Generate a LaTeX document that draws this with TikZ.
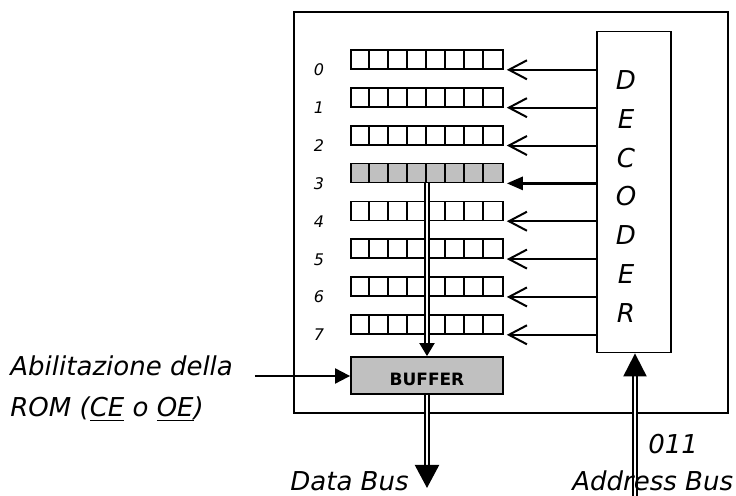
\documentclass[tikz,border=0pt]{standalone}
\usepackage{fontspec}
\setmainfont{DejaVu Sans}
\usetikzlibrary{arrows.meta}
\definecolor{romgray}{HTML}{C0C0C0}

\begin{document}
\begin{tikzpicture}[x=0.5pt, y=-0.5pt,
  reg/.style={draw, line width=0.8pt, minimum width=76pt, minimum height=9.5pt, inner sep=0pt},
  big/.style={font=\fontsize{13}{15}\selectfont\itshape, inner sep=0pt},
  numlbl/.style={font=\fontsize{8}{10}\selectfont\itshape, inner sep=0pt},
  seloff/.style={line width=1pt, -{Straight Barb[length=9pt, width=9.5pt, line width=1pt]}},
  selon/.style={line width=1.3pt, -{Triangle[length=8pt, width=6.5pt]}},
  bus/.style={double, double distance=1.4pt, line width=1pt}]
  \useasboundingbox (0,0) rectangle (736,496);
  % chip outline and decoder
  \draw[line width=1pt] (294,12) rectangle (728,413);
  \node[draw, line width=0.9pt, minimum width=37pt, minimum height=160.5pt] (dec) at (634,192) {};
  \foreach \l [count=\i] in {D,E,C,O,D,E,R}
    \node[big] (dl\i) at (626,41.2+38.8*\i) {\l};
  % memory locations 0..7
  \foreach \i/\c/\a in {0/white/seloff,1/white/seloff,2/white/seloff,3/romgray/selon,
                        4/white/seloff,5/white/seloff,6/white/seloff,7/white/seloff} {
    \node[reg, fill=\c] (r\i) at (427,59.5+37.86*\i) {};
    \foreach \k in {1,...,7}
      \draw[line width=0.8pt] (r\i.south west) ++(19*\k,0) -- ++(0,-19);
    \node[numlbl] (n\i) at (319,70+37.86*\i) {\i};
    \draw[\a] (dec.west |- r\i.south) -- ([xshift=1.5pt]r\i.south east);
  }
  % buffer
  \node[draw, fill=romgray, line width=0.9pt, minimum width=76pt, minimum height=18.5pt] (buf) at (427,375.5) {};
  \node[font=\fontsize{8.5}{10}\selectfont\bfseries, inner sep=0pt] (buftxt) at ([yshift=-2pt]buf.center) {BUFFER};
  \draw[bus, -{Triangle[length=6.5pt, width=7.5pt]}] (r3.south) -- (buf.north);
  % enable input
  \coordinate (en) at (255,376);
  \draw[line width=1pt, -{Triangle[length=7.5pt, width=7.5pt]}] (en) -- (en -| buf.west);
  \node[big, anchor=base west] (en1) at (10,376) {Abilitazione della};
  \node[big, anchor=base west] (en2) at (10,417) {ROM (\underline{CE} o \underline{OE})};
  % buses
  \coordinate (db) at (427,488);
  \draw[bus, -{Triangle[length=11.5pt, width=12pt]}] (buf.south) -- (db);
  \coordinate (ab) at (635,496);
  \draw[bus, -{Triangle[length=11.5pt, width=11.5pt]}] (ab) -- (ab |- dec.south);
  \node[big, anchor=base west] (dbl) at (290,491) {Data Bus};
  \node[big, anchor=base west] (abl) at (572,491) {Address Bus};
  \node[big, anchor=base west] (code) at (648,454) {011};
\end{tikzpicture}
\end{document}
